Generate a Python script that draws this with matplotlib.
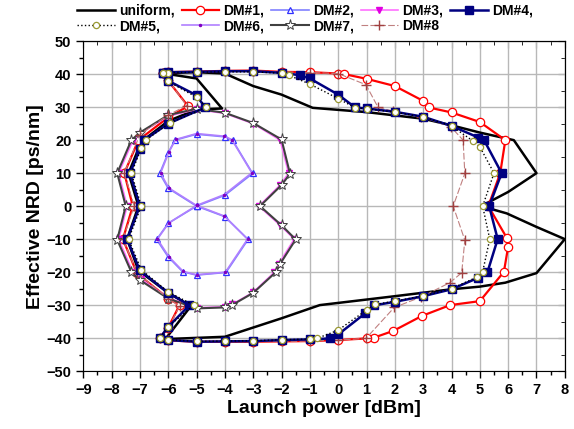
import matplotlib
matplotlib.use('Agg')
import matplotlib.pyplot as plt
from matplotlib.ticker import MultipleLocator

plt.rcParams['font.family'] = ['Liberation Sans', 'DejaVu Sans']
plt.rcParams['font.weight'] = 'bold'

# uniform map
uni_x = [-6.2, -5, -4, -3, -2, -0.9, 1, 3, 4, 5, 6.2, 7, 6, 5.05, 5.95, 7, 8, 7, 5.9, 5, 4, 2,
         -0.65, -2, -4, -6.1, -5.2, -6, -7.05, -7.45, -7.05, -7.4, -6.95, -6, -5, -4.1, -5, -6.2]
uni_y = [40.3, 40.6, 40.2, 36.4, 33.8, 29.8, 28.5, 26.5, 24.5, 22.3, 20, 10, 4.3, 0, -2.2, -6.3, -10,
         -20.3, -23.2, -24.4, -25.2, -27.3, -30, -34, -39.6, -40.3, -30.3, -26.3, -19.5, -10, 0, 10,
         19.5, 25.8, 29.3, 29.6, 38.7, 40.3]

# DM#1
dm1_x = [-6.2, -6, -5, -4, -3, -2, -1, 0, 0.22, 1, 2, 3, 3.2, 4, 5, 5.9, 5.72, 5.3, 5.95, 6, 5.85, 5,
         3.95, 2.95, 1.95, 1.25, 1, 0, -1, -2, -3, -4, -5, -6, -6.3, -6, -5.6, -6, -7.1, -7.6, -7.25,
         -7.55, -7.05, -6, -5.3, -6, -6.2]
dm1_y = [40.3, 40.6, 40.8, 41, 41.1, 40.7, 40.6, 40.2, 40, 38.6, 36.4, 31.9, 29.9, 28.4, 25.5, 20, 10,
         0, -9.6, -12.3, -19.9, -28.8, -30, -33.3, -37.8, -39.9, -40.1, -40.6, -40.9, -41, -41.1, -41.1,
         -41.1, -40.7, -40, -36.8, -30, -28, -20.4, -10, 0, 10, 20, 26.9, 30.3, 38, 40.3]

# DM#2
dm2_x = [-5, -4, -3.02, -3.73, -4, -5, -5.76, -6, -6.3, -6, -5, -4, -3.18, -3.96, -5, -5.49, -6, -6.41, -6, -5]
dm2_y = [0, 3.3, 9.9, 20, 21, 21.8, 20, 16.2, 9.9, 5.4, 0, -3.2, -10.1, -20.1, -20.9, -19.9, -15.4, -10.1, -5.2, 0]

# DM#3
dm3_x = [-6, -7, -7.25, -7.75, -7.45, -7.75, -7.25, -6.95, -6, -5, -4, -3.75, -3, -2.25, -2.1, -1.55,
         -2.05, -2.8, -2.05, -1.75, -2.05, -3, -4, -5, -6]
dm3_y = [27.3, 22, 19.8, 10, 0, -10, -20, -22.2, -27.8, -30.8, -30.5, -29.8, -26.1, -20, -17.5, -10,
         -5.8, 0, 6.4, 10, 20, 25, 28.1, 29.3, 27.3]

# DM#4
dm4_x = [-6.2, -6, -5, -4, -3, -2, -1.35, -1, 0, 0.6, 1, 2, 3, 4, 4.95, 5.15, 5.77, 5.33, 5.63, 5.27,
         4.95, 4, 3, 2, 1.25, 0.95, 0, -0.3, -1, -2, -3, -4, -5, -6, -6.3, -6, -5.25, -6, -7, -7.45,
         -7, -7.35, -7, -6.85, -6, -4.7, -5, -6, -6.2]
dm4_y = [40.3, 40.6, 40.7, 40.9, 40.9, 40.4, 39.7, 38.7, 33.8, 29.9, 29.6, 28.6, 27.1, 24.3, 20.8, 20,
         10, 0, -10, -20, -21.7, -25.2, -27.3, -29, -30.1, -32.5, -38.9, -40.1, -40.4, -40.6, -40.9,
         -41, -41.1, -40.6, -40, -36.6, -30, -26.3, -19.5, -10, 0, 10, 17.2, 20, 25, 29.9, 33.6, 38, 40.3]

# DM#5
dm5_x = [-6.2, -6, -5, -4, -3, -2, -1.75, -1, 0, 0.6, 1, 2, 3, 4, 4.75, 5, 5.5, 5.1, 5.35, 5.1, 4.9,
         4, 3, 2, 1.3, 1, 0, -0.75, -1, -2, -3, -4, -5, -6, -6.3, -6, -5.1, -6, -6.95, -7.4, -6.95,
         -7.3, -6.95, -6.8, -5.95, -4.65, -5, -6, -6.2]
dm5_y = [40.3, 40.5, 40.6, 40.7, 40.7, 40.3, 39.7, 37, 32.6, 29.8, 29.5, 28.5, 27, 24.3, 19.8, 18, 10,
         0, -10, -19.9, -21.5, -25, -27.2, -28.8, -29.8, -31.5, -37.6, -40.1, -40.3, -40.5, -40.8, -40.9,
         -41, -40.5, -40, -36.5, -30, -26, -19.3, -10, 0, 10, 17.5, 20, 25.2, 30, 33, 37.8, 40.3]

# DM#6
dm6_x = [-5, -4.02, -3.05, -3.75, -4.02, -5, -5.74, -5.98, -6.27, -5.98, -5, -4.02, -3.2, -3.98,
         -5, -5.47, -5.98, -6.38, -5.98, -5]
dm6_y = [0.2, 3.5, 10.1, 20.1, 21.2, 22, 20.2, 16.3, 10, 5.5, 0.2, -3, -10, -20, -20.8, -19.8, -15.3,
         -10, -5.1, 0.2]

# DM#7
dm7_x = [-6, -7, -7.3, -7.8, -7.5, -7.8, -7.3, -7, -6, -5, -4, -3.75, -3, -2.2, -2.05, -1.5, -2,
         -2.76, -2, -1.7, -2, -3, -4, -5, -6]
dm7_y = [27.6, 22.3, 20, 10, 0, -10.2, -20, -22.4, -28, -31, -30.7, -30, -26.3, -20, -17.5, -10.1,
         -5.8, 0, 6.4, 9.8, 20.2, 25.2, 28.3, 29.5, 27.6]

# DM#8
dm8_x = [-6.2, -6, -5, -4, -3, -2, -1, 0, 0.98, 1.41, 1.94, 2.94, 3.98, 4.41, 4.47, 4.06, 4.47, 4.36,
         3.94, 2.94, 1.98, 0.98, 0, -1, -2, -3, -4, -5, -6, -6.3, -6, -5.6, -6, -7.1, -7.6, -7.2,
         -7.55, -7, -6, -5.35, -6, -6.2]
dm8_y = [40.3, 40.6, 40.8, 41, 41, 40.7, 40.5, 40.2, 36.8, 29.9, 28.8, 27.1, 24, 20, 9.9, 0, -10.3,
         -20.2, -23.2, -27.5, -30.7, -40.1, -40.6, -40.9, -41, -41.1, -41.1, -41.1, -40.7, -40, -37,
         -30.3, -28, -20.3, -10, 0, 10, 21.7, 27.6, 30.5, 38.2, 40.3]

fig = plt.figure(figsize=(5.74, 4.29), dpi=100)
ax = fig.add_axes([0.145, 0.135, 0.839, 0.769])

ax.plot(uni_x, uni_y, color='black', lw=1.8, label='uniform,', zorder=3)
ax.plot(dm1_x, dm1_y, color='red', lw=1.6, marker='o', ms=6, mfc='white', mec='red', mew=0.9,
        label='DM#1,', zorder=4)
ax.plot(dm2_x, dm2_y, color='#8080ff', lw=1.2, marker='^', ms=5, mfc='white', mec='#3030ff', mew=0.9,
        label='DM#2,', zorder=4)
ax.plot(dm3_x, dm3_y, color='#ff70ff', lw=1.2, marker='v', ms=4, mfc='#e000e0', mec='#e000e0',
        label='DM#3,', zorder=4)
ax.plot(dm4_x, dm4_y, color='#000080', lw=1.8, marker='s', ms=6, mfc='#000080', mec='#000080',
        label='DM#4,', zorder=5)
ax.plot(dm5_x, dm5_y, color='black', lw=1.0, ls=':', marker='o', ms=4.5, mfc='white', mec='#999933',
        mew=0.9, label='DM#5,', zorder=6)
ax.plot(dm6_x, dm6_y, color='#b080ff', lw=1.2, marker='.', ms=3, mfc='#8000c0', mec='#8000c0',
        label='DM#6,', zorder=5)
ax.plot(dm7_x, dm7_y, color='#404040', lw=1.5, marker='*', ms=8, mfc='white', mec='#404040', mew=0.7,
        label='DM#7,', zorder=4)
ax.plot(dm8_x, dm8_y, color='#c08080', lw=0.8, ls=(0, (6, 2)), marker='+', ms=7, mec='#a04040',
        label='DM#8', zorder=4)

ax.set_xlim(-9, 8)
ax.set_ylim(-50, 50)
ax.xaxis.set_major_locator(MultipleLocator(1))
ax.xaxis.set_minor_locator(MultipleLocator(0.5))
ax.yaxis.set_major_locator(MultipleLocator(10))
ax.yaxis.set_minor_locator(MultipleLocator(5))
ax.grid(True, which='major', color='#b8b8b8', lw=1.0)
ax.set_axisbelow(True)
ax.tick_params(which='both', direction='out', labelsize=10.5, width=1)
ax.tick_params(which='major', length=5)
ax.tick_params(which='minor', length=3)
ax2 = ax.secondary_xaxis('top')
ax2.xaxis.set_major_locator(MultipleLocator(1))
ax2.xaxis.set_minor_locator(MultipleLocator(0.5))
ax2.tick_params(which='both', direction='in', labeltop=False)
ax2.tick_params(which='major', length=5)
ax2.tick_params(which='minor', length=3)
ay2 = ax.secondary_yaxis('right')
ay2.yaxis.set_major_locator(MultipleLocator(10))
ay2.yaxis.set_minor_locator(MultipleLocator(5))
ay2.tick_params(which='both', direction='in', labelright=False)
ay2.tick_params(which='major', length=5)
ay2.tick_params(which='minor', length=3)

for lab in ax.get_xticklabels() + ax.get_yticklabels():
    lab.set_fontweight('bold')

ax.set_xlabel('Launch power [dBm]', fontsize=14, fontweight='bold', labelpad=2)
ax.set_ylabel('Effective NRD [ps/nm]', fontsize=14, fontweight='bold', labelpad=2)

# two rows, filled row by row
h, l = ax.get_legend_handles_labels()
order = [0, 5, 1, 6, 2, 7, 3, 8, 4]
ax.legend([h[i] for i in order], [l[i] for i in order], ncol=5, loc='lower left',
          bbox_to_anchor=(-0.015, 1.02), frameon=False, handlelength=2.7,
          columnspacing=0.5, handletextpad=0.3, labelspacing=0.1, borderaxespad=0,
          borderpad=0.1, prop={'weight': 'bold', 'size': 10})

fig.savefig('out.png', dpi=100)
